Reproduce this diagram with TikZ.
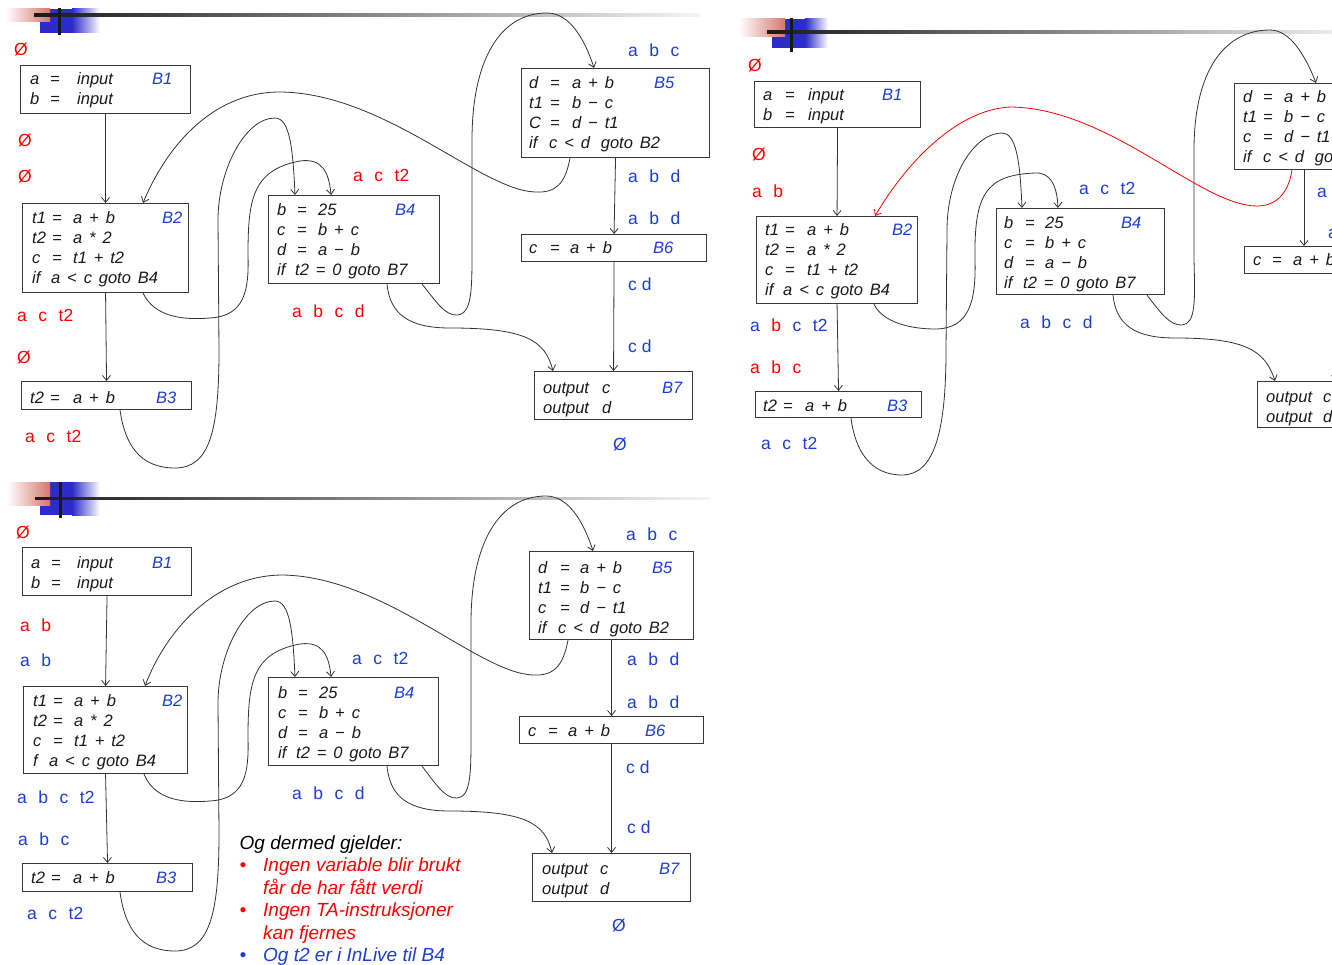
\documentclass[tikz,border=0pt]{standalone}
\usepackage{fontspec}
\setmainfont{Liberation Sans}
\newfontfamily\codefam{Liberation Sans}[WordSpace=1.5]
\usetikzlibrary{arrows.meta,calc}
\definecolor{lblue}{RGB}{28,62,214}
\definecolor{hblue}{RGB}{44,44,200}
\definecolor{hpink}{RGB}{214,118,108}
\newcommand\mkc[2]{\makebox[#1][l]{#2}}
\newcommand\lgap{\hspace{11.5pt}}
\newcommand\tb[1]{\begin{tabular}[t]{@{}l@{}}#1\end{tabular}}
\tikzset{
 blk/.style={draw=black!78, line width=1.1pt, inner sep=0pt, anchor=north west},
 codetxt/.style={inner sep=0pt, anchor=base west, font=\codefam\fontsize{16.5}{20}\selectfont\itshape, text=black!90},
 blab/.style={inner sep=0pt, anchor=base west, font=\codefam\fontsize{16.5}{20}\selectfont\itshape, text=lblue},
 lbl/.style={inner sep=0pt, anchor=base west, font=\fontsize{17.5}{20}\selectfont},
 rl/.style={lbl, text=red},
 bl/.style={lbl, text=lblue},
 conn/.style={draw=black!80, line width=0.8pt, -{Straight Barb[length=5pt,width=8pt]}},
}
\begin{document}
\begin{tikzpicture}[x=1pt,y=-1pt]
\clip (0,0) rectangle (1332,965);
\fill[white] (0,0) rectangle (1332,965);

% ================= headers =================
% panel 1
\fill[hblue] (40,9) rectangle (72,33);
\shade[left color=hblue, right color=white] (72,9) rectangle (100,33);
\shade[left color=white, right color=hpink] (5,9) rectangle (50,22);
\shade[left color=black!90, middle color=black!50, right color=black!4] (34,14) rectangle (700,16.5);
\fill[black!90] (58,8) rectangle (60.5,35);
% panel 2
\fill[hblue] (772,19) rectangle (805,48);
\shade[left color=hblue, right color=white] (805,19) rectangle (828,48);
\shade[left color=white, right color=hpink] (739,19) rectangle (785,37);
\shade[left color=black!90, middle color=black!55, right color=black!8] (767,31) rectangle (1332,33.5);
\fill[black!90] (790,18) rectangle (792.5,52);
% panel 3
\fill[hblue] (40,482) rectangle (72,515);
\shade[left color=hblue, right color=white] (72,482) rectangle (100,515);
\shade[left color=white, right color=hpink] (7,482) rectangle (50,505);
\shade[left color=black!90, middle color=black!50, right color=black!4] (35,497) rectangle (710,499.5);
\fill[black!90] (59,482) rectangle (61.5,518);

% ================= panel 1 =================
\node[blk, minimum width=170pt, minimum height=48pt] (p1b1) at (20,65) {};
\node[blk, minimum width=166pt, minimum height=89pt] (p1b2) at (22,203) {};
\node[blk, minimum width=170pt, minimum height=28pt] (p1b3) at (21,381) {};
\node[blk, minimum width=171pt, minimum height=88pt] (p1b4) at (268,195) {};
\node[blk, minimum width=188pt, minimum height=89pt] (p1b5) at (521,68) {};
\node[blk, minimum width=185pt, minimum height=27pt] (p1b6) at (521,234) {};
\node[blk, minimum width=158pt, minimum height=48pt] (p1b7) at (534,371) {};

\node[codetxt] (p1t1) at (30,85) {\tb{\mkc{20pt}{a}\mkc{27pt}{=}input\\ \mkc{20pt}{b}\mkc{27pt}{=}input}};
\node[blab] (p1l1) at (152,85) {B1};
\node[codetxt] (p1t2) at (32,224) {\tb{\mkc{20pt}{t1}\mkc{21pt}{=}a + b\\ \mkc{20pt}{t2}\mkc{21pt}{=}a * 2\\ \mkc{20pt}{c}\mkc{21pt}{=}t1 + t2\\ \mkc{19pt}{if}a < c goto B4}};
\node[blab] (p1l2) at (162,224) {B2};
\node[codetxt] (p1t3) at (30,403) {\tb{\mkc{20pt}{t2}\mkc{23pt}{=}a + b}};
\node[blab] (p1l3) at (156,403) {B3};
\node[codetxt] (p1t4) at (277,216) {\tb{\mkc{20pt}{b}\mkc{21pt}{=}25\\ \mkc{20pt}{c}\mkc{21pt}{=}b + c\\ \mkc{20pt}{d}\mkc{21pt}{=}a − b\\ \mkc{18pt}{if}t2 = 0 goto B7}};
\node[blab] (p1l4) at (395,216) {B4};
\node[codetxt] (p1t5) at (529,89) {\tb{\mkc{21pt}{d}\mkc{22pt}{=}a + b\\ \mkc{21pt}{t1}\mkc{22pt}{=}b − c\\ \mkc{21pt}{C}\mkc{22pt}{=}d − t1\\ \mkc{20pt}{if}c < d\hspace{4pt} goto B2}};
\node[blab] (p1l5) at (654,89) {B5};
\node[codetxt] (p1t6) at (529,254) {\tb{\mkc{21pt}{c}\mkc{20pt}{=}a + b}};
\node[blab] (p1l6) at (653,254) {B6};
\node[codetxt] (p1t7) at (543,393) {\tb{\mkc{59pt}{output}c\\ \mkc{59pt}{output}d}};
\node[blab] (p1l7) at (662,393) {B7};

\node[rl] (p1s0) at (14,56) {Ø};
\node[rl] (p1s1) at (18,147) {Ø};
\node[rl] (p1s2) at (18,183) {Ø};
\node[rl] (p1s3) at (17,321) {a\lgap c\lgap t2};
\node[rl] (p1s4) at (17,363) {Ø};
\node[rl] (p1s5) at (25,442) {a\lgap c\lgap t2};
\node[rl] (p1s6) at (353,182) {a\lgap c\lgap t2};
\node[rl] (p1s7) at (292,317) {a\lgap b\lgap c\lgap d};
\node[bl] (p1s8) at (628,57) {a\lgap b\lgap c};
\node[bl] (p1s9) at (628,183) {a\lgap b\lgap d};
\node[bl] (p1s10) at (628,225) {a\lgap b\lgap d};
\node[bl] (p1s11) at (628,291) {c d};
\node[bl] (p1s12) at (628,352) {c d};
\node[bl] (p1s13) at (613,450) {Ø};

\draw[conn] (p1b1.south) -- (p1b2.north);
\draw[conn] (p1b2.south) -- (p1b3.north);
\draw[conn] (p1b5.south) -- (p1b6.north);
\draw[conn] (p1b6.south) -- (p1b7.north);
\draw[conn] ($(p1b5.south west)+(49,0)$) .. controls (565,185) and (555,193) .. (535,192)
  .. controls (480,190) and (385,93) .. (280,92)
  .. controls (210,92) and (165,150) .. ($(p1b2.north west)+(121,0)$);
\draw[conn] ($(p1b2.south west)+(121,0)$) .. controls (155,318) and (185,320) .. (210,318)
  .. controls (245,316) and (249,290) .. (248,255)
  .. controls (248,200) and (252,170) .. (300,161)
  .. controls (322,158) and (329,172) .. ($(p1b4.north west)+(63,0)$);
\draw[conn] ($(p1b3.south west)+(99,0)$) .. controls (125,445) and (140,468) .. (175,468)
  .. controls (210,468) and (219,430) .. (219,350) -- (218,220)
  .. controls (218,170) and (245,118) .. (275,118)
  .. controls (290,118) and (293,150) .. ($(p1b4.north west)+(27,0)$);
\draw[conn] ($(p1b4.south west)+(119,0)$) .. controls (390,315) and (410,328) .. (450,328)
  .. controls (525,328) and (545,340) .. ($(p1b7.north west)+(19,0)$);
\draw[conn] ($(p1b4.south west)+(154,0)$) .. controls (435,300) and (445,316) .. (457,315)
  .. controls (472,314) and (472,290) .. (472,250) -- (472,140)
  .. controls (472,60) and (500,13) .. (547,13)
  .. controls (570,13) and (585,40) .. ($(p1b5.north west)+(73,0)$);

% ================= panel 2 =================
\node[blk, minimum width=166pt, minimum height=46pt] (p2b1) at (754,81) {};
\node[blk, minimum width=161pt, minimum height=87pt] (p2b2) at (756,216) {};
\node[blk, minimum width=166pt, minimum height=26pt] (p2b3) at (755,391) {};
\node[blk, minimum width=168pt, minimum height=86pt] (p2b4) at (996,208) {};
\node[blk, minimum width=186pt, minimum height=86pt] (p2b5) at (1234,83) {};
\node[blk, minimum width=182pt, minimum height=27pt] (p2b6) at (1244,246) {};
\node[blk, minimum width=156pt, minimum height=46pt] (p2b7) at (1257,381) {};

\node[codetxt] (p2t1) at (763,101) {\tb{\mkc{22pt}{a}\mkc{23pt}{=}input\\ \mkc{22pt}{b}\mkc{23pt}{=}input}};
\node[blab] (p2l1) at (882,101) {B1};
\node[codetxt] (p2t2) at (765,236) {\tb{\mkc{20pt}{t1}\mkc{22pt}{=}a + b\\ \mkc{20pt}{t2}\mkc{22pt}{=}a * 2\\ \mkc{20pt}{c}\mkc{22pt}{=}t1 + t2\\ \mkc{18pt}{if}a < c goto B4}};
\node[blab] (p2l2) at (892,236) {B2};
\node[codetxt] (p2t3) at (763,411) {\tb{\mkc{20pt}{t2}\mkc{22pt}{=}a + b}};
\node[blab] (p2l3) at (887,411) {B3};
\node[codetxt] (p2t4) at (1004,229) {\tb{\mkc{21pt}{b}\mkc{20pt}{=}25\\ \mkc{21pt}{c}\mkc{20pt}{=}b + c\\ \mkc{21pt}{d}\mkc{20pt}{=}a − b\\ \mkc{19pt}{if}t2 = 0 goto B7}};
\node[blab] (p2l4) at (1121,229) {B4};
\node[codetxt] (p2t5) at (1243,103) {\tb{\mkc{20pt}{d}\mkc{21pt}{=}a + b\\ \mkc{20pt}{t1}\mkc{21pt}{=}b − c\\ \mkc{20pt}{c}\mkc{21pt}{=}d − t1\\ \mkc{20pt}{if}c < d\hspace{4pt} goto B2}};
\node[codetxt] (p2t6) at (1253,266) {\tb{\mkc{19pt}{c}\mkc{21pt}{=}a + b}};
\node[codetxt] (p2t7) at (1266,402) {\tb{\mkc{57pt}{output}c\\ \mkc{57pt}{output}d}};

\node[rl] (p2s0) at (748,72) {Ø};
\node[rl] (p2s1) at (752,161) {Ø};
\node[rl] (p2s2) at (752,198) {a\lgap b};
\node[lbl] (p2s3) at (750,331) {{\color{lblue}a}\lgap{\color{red}b}\lgap{\color{lblue}c\lgap t2}};
\node[rl] (p2s4) at (750,373) {a\lgap b\lgap c};
\node[bl] (p2s5) at (761,449) {a\lgap c\lgap t2};
\node[bl] (p2s6) at (1079,195) {a\lgap c\lgap t2};
\node[bl] (p2s7) at (1020,328) {a\lgap b\lgap c\lgap d};
\node[bl] (p2s8) at (1317,198) {a\lgap b\lgap d};
\node[bl] (p2s9) at (1328,239) {a\lgap b\lgap d};

\draw[conn] (p2b1.south) -- (p2b2.north);
\draw[conn] (p2b2.south) -- (p2b3.north);
\draw[conn] ($(p2b5.south west)+(70,0)$) -- ($(p2b6.north west)+(60,0)$);
\draw[conn] (p2b6.south) -- (p2b7.north);
\draw[conn, draw=red] ($(p2b5.south west)+(58,0)$) .. controls (1288,195) and (1275,206) .. (1257,206)
  .. controls (1200,206) and (1110,108) .. (1010,107)
  .. controls (955,110) and (905,165) .. ($(p2b2.north west)+(119,0)$);
\draw[conn] ($(p2b2.south west)+(118,0)$) .. controls (882,322) and (910,329) .. (935,329)
  .. controls (970,329) and (976,300) .. (975,260)
  .. controls (974,195) and (985,175) .. (1035,173)
  .. controls (1050,172) and (1057,185) .. ($(p2b4.north west)+(62,0)$);
\draw[conn] ($(p2b3.south west)+(96,0)$) .. controls (855,450) and (870,475) .. (902,475)
  .. controls (935,475) and (946,430) .. (946,350) -- (947,230)
  .. controls (947,175) and (975,133) .. (1002,133)
  .. controls (1016,133) and (1020,160) .. ($(p2b4.north west)+(26,0)$);
\draw[conn] ($(p2b4.south west)+(117,0)$) .. controls (1116,325) and (1135,338) .. (1175,338)
  .. controls (1245,338) and (1265,350) .. ($(p2b7.north west)+(18,0)$);
\draw[conn] ($(p2b4.south west)+(151,0)$) .. controls (1160,312) and (1170,326) .. (1182,325)
  .. controls (1196,324) and (1195,300) .. (1194,260) -- (1194,150)
  .. controls (1194,70) and (1225,30) .. (1270,30)
  .. controls (1290,30) and (1305,55) .. ($(p2b5.north west)+(82,0)$);

% ================= panel 3 =================
\node[blk, minimum width=169pt, minimum height=48pt] (p3b1) at (22,547) {};
\node[blk, minimum width=164pt, minimum height=87pt] (p3b2) at (23,686) {};
\node[blk, minimum width=170pt, minimum height=28pt] (p3b3) at (22,863) {};
\node[blk, minimum width=170pt, minimum height=88pt] (p3b4) at (268,677) {};
\node[blk, minimum width=164pt, minimum height=88pt] (p3b5) at (529,551) {};
\node[blk, minimum width=184pt, minimum height=27pt] (p3b6) at (519,716) {};
\node[blk, minimum width=158pt, minimum height=48pt] (p3b7) at (532,853) {};

\node[codetxt] (p3t1) at (31,568) {\tb{\mkc{20pt}{a}\mkc{26pt}{=}input\\ \mkc{20pt}{b}\mkc{26pt}{=}input}};
\node[blab] (p3l1) at (152,568) {B1};
\node[codetxt] (p3t2) at (33,706) {\tb{\mkc{20pt}{t1}\mkc{21pt}{=}a + b\\ \mkc{20pt}{t2}\mkc{21pt}{=}a * 2\\ \mkc{20pt}{c}\mkc{21pt}{=}t1 + t2\\ \mkc{16pt}{f}a < c goto B4}};
\node[blab] (p3l2) at (162,706) {B2};
\node[codetxt] (p3t3) at (31,883) {\tb{\mkc{20pt}{t2}\mkc{22pt}{=}a + b}};
\node[blab] (p3l3) at (156,883) {B3};
\node[codetxt] (p3t4) at (278,698) {\tb{\mkc{20pt}{b}\mkc{21pt}{=}25\\ \mkc{20pt}{c}\mkc{21pt}{=}b + c\\ \mkc{20pt}{d}\mkc{21pt}{=}a − b\\ \mkc{18pt}{if}t2 = 0 goto B7}};
\node[blab] (p3l4) at (394,698) {B4};
\node[codetxt] (p3t5) at (538,573) {\tb{\mkc{22pt}{d}\mkc{20pt}{=}a + b\\ \mkc{22pt}{t1}\mkc{20pt}{=}b − c\\ \mkc{22pt}{c}\mkc{20pt}{=}d − t1\\ \mkc{20pt}{if}c < d\hspace{4pt} goto B2}};
\node[blab] (p3l5) at (652,573) {B5};
\node[codetxt] (p3t6) at (528,736) {\tb{\mkc{20pt}{c}\mkc{20pt}{=}a + b}};
\node[blab] (p3l6) at (645,736) {B6};
\node[codetxt] (p3t7) at (542,874) {\tb{\mkc{58pt}{output}c\\ \mkc{58pt}{output}d}};
\node[blab] (p3l7) at (659,874) {B7};

\node[rl] (p3s0) at (16,538) {Ø};
\node[rl] (p3s1) at (20,631) {a\lgap b};
\node[bl] (p3s2) at (20,666) {a\lgap b};
\node[bl] (p3s3) at (17,803) {a\lgap b\lgap c\lgap t2};
\node[bl] (p3s4) at (18,845) {a\lgap b\lgap c};
\node[bl] (p3s5) at (27,919) {a\lgap c\lgap t2};
\node[bl] (p3s6) at (352,664) {a\lgap c\lgap t2};
\node[bl] (p3s7) at (292,799) {a\lgap b\lgap c\lgap d};
\node[bl] (p3s8) at (626,540) {a\lgap b\lgap c};
\node[bl] (p3s9) at (627,665) {a\lgap b\lgap d};
\node[bl] (p3s10) at (627,708) {a\lgap b\lgap d};
\node[bl] (p3s11) at (626,773) {c d};
\node[bl] (p3s12) at (627,833) {c d};
\node[bl] (p3s13) at (612,931) {Ø};

\node[inner sep=0pt, anchor=base west, font=\fontsize{19}{22.5}\selectfont\itshape] (p3note) at (239.5,849)
 {\begin{tabular}[t]{@{}l@{}l@{}}
 \multicolumn{2}{@{}l@{}}{Og dermed gjelder:}\\
 \mkc{23.5pt}{\color{red}•} & \color{red}Ingen variable blir brukt\\
  & \color{red}får de har fått verdi\\
 \mkc{23.5pt}{\color{red}•} & \color{red}Ingen TA-instruksjoner\\
  & \color{red}kan fjernes\\
 \mkc{23.5pt}{\color{lblue}•} & \color{lblue}Og t2 er i InLive til B4
 \end{tabular}};

\draw[conn] (p3b1.south) -- (p3b2.north);
\draw[conn] (p3b2.south) -- (p3b3.north);
\draw[conn] (p3b5.south) -- (p3b6.north);
\draw[conn] (p3b6.south) -- (p3b7.north);
\draw[conn] ($(p3b5.south west)+(39,0)$) .. controls (563,667) and (553,676) .. (533,675)
  .. controls (478,673) and (385,577) .. (283,575)
  .. controls (213,575) and (165,633) .. ($(p3b2.north west)+(122,0)$);
\draw[conn] ($(p3b2.south west)+(121,0)$) .. controls (155,801) and (185,803) .. (210,801)
  .. controls (245,799) and (249,773) .. (248,738)
  .. controls (248,683) and (252,653) .. (300,644)
  .. controls (322,641) and (329,655) .. ($(p3b4.north west)+(63,0)$);
\draw[conn] ($(p3b3.south west)+(98,0)$) .. controls (125,928) and (140,951) .. (175,951)
  .. controls (210,951) and (219,913) .. (219,833) -- (218,703)
  .. controls (218,653) and (245,601) .. (275,601)
  .. controls (290,601) and (293,633) .. ($(p3b4.north west)+(27,0)$);
\draw[conn] ($(p3b4.south west)+(119,0)$) .. controls (390,798) and (410,811) .. (450,811)
  .. controls (525,811) and (545,823) .. ($(p3b7.north west)+(20,0)$);
\draw[conn] ($(p3b4.south west)+(154,0)$) .. controls (435,783) and (445,799) .. (457,798)
  .. controls (471,797) and (471,773) .. (471,733) -- (471,623)
  .. controls (471,543) and (499,496) .. (546,496)
  .. controls (569,496) and (584,523) .. ($(p3b5.north west)+(64,0)$);
\end{tikzpicture}
\end{document}
